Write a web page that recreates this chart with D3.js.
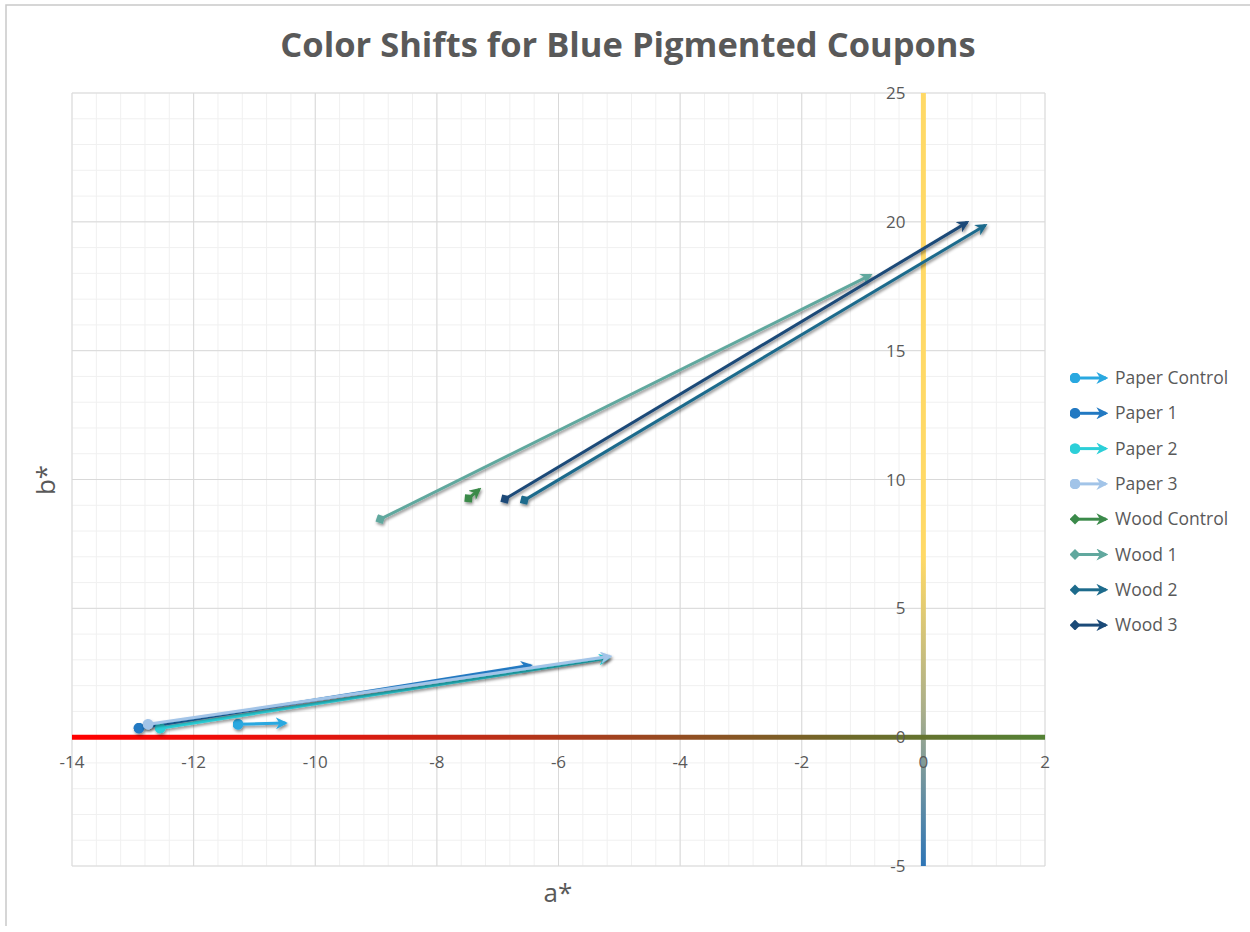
<!DOCTYPE html>
<html>
<head>
<meta charset="utf-8">
<script src="https://cdn.jsdelivr.net/npm/d3@7"></script>
<style>
  html, body { margin: 0; padding: 0; background: #fff; }
  text { font-family: "Open Sans", "Noto Sans", sans-serif; fill: #595959; }
</style>
</head>
<body>
<div id="chart"></div>
<script>
// series: start (a*, b*) -> end (a*, b*)
const seriesNames = ['Paper Control', 'Paper 1', 'Paper 2', 'Paper 3',
  'Wood Control', 'Wood 1', 'Wood 2', 'Wood 3'];
const startA = [-11.27, -12.9, -12.55, -12.75, -7.48, -8.93, -6.56, -6.88];
const startB = [0.5, 0.35, 0.35, 0.5, 9.27, 8.46, 9.2, 9.24];
const endA = [-10.49, -6.46, -5.18, -5.15, -7.3, -0.87, 1.02, 0.72];
const endB = [0.55, 2.79, 3.07, 3.14, 9.62, 17.93, 19.87, 19.98];
const seriesColors = ['#29a8e0', '#2279c2', '#2ccfd8', '#a2c4e8',
  '#3b8a4a', '#61a89e', '#1d6b8c', '#1b4a78'];
const startShape = ['circle', 'circle', 'circle', 'circle',
  'diamond', 'diamond', 'diamond', 'diamond'];

const xTicks = [-14, -12, -10, -8, -6, -4, -2, 0, 2];
const yTicks = [-5, 0, 5, 10, 15, 20, 25];

const width = 1250, height = 932;
const plot = { left: 72, right: 1045, top: 93, bottom: 866 };

const svg = d3.select('#chart').append('svg')
  .attr('width', width).attr('height', height);

const x = d3.scaleLinear().domain([-14, 2]).range([plot.left, plot.right]);
const y = d3.scaleLinear().domain([-5, 25]).range([plot.bottom, plot.top]);

const defs = svg.append('defs');

// gradients for the axis lines
const gx = defs.append('linearGradient').attr('id', 'gx')
  .attr('gradientUnits', 'userSpaceOnUse')
  .attr('x1', plot.left).attr('x2', plot.right).attr('y1', 0).attr('y2', 0);
gx.append('stop').attr('offset', '0%').attr('stop-color', '#ff0000');
gx.append('stop').attr('offset', '25%').attr('stop-color', '#e4140e');
gx.append('stop').attr('offset', '55%').attr('stop-color', '#a3401e');
gx.append('stop').attr('offset', '80%').attr('stop-color', '#6e6a2a');
gx.append('stop').attr('offset', '100%').attr('stop-color', '#548235');

const gy = defs.append('linearGradient').attr('id', 'gy')
  .attr('gradientUnits', 'userSpaceOnUse')
  .attr('x1', 0).attr('x2', 0).attr('y1', plot.top).attr('y2', plot.bottom);
gy.append('stop').attr('offset', '0%').attr('stop-color', '#ffd966');
gy.append('stop').attr('offset', '60%').attr('stop-color', '#ffd966');
gy.append('stop').attr('offset', '80%').attr('stop-color', '#a9ae8a');
gy.append('stop').attr('offset', '100%').attr('stop-color', '#2e75b6');

// drop shadow over the whole canvas so flat lines keep their shadow
const shadow = defs.append('filter').attr('id', 'shadow')
  .attr('filterUnits', 'userSpaceOnUse')
  .attr('x', 0).attr('y', 0).attr('width', width).attr('height', height);
shadow.append('feDropShadow').attr('dx', 1).attr('dy', 2)
  .attr('stdDeviation', 1.5).attr('flood-color', '#000').attr('flood-opacity', 0.45);

// markers per series
seriesColors.forEach((c, i) => {
  defs.append('marker').attr('id', 'arr' + i)
    .attr('viewBox', '0 0 10 10').attr('refX', 8).attr('refY', 5)
    .attr('markerWidth', 4).attr('markerHeight', 4)
    .attr('markerUnits', 'strokeWidth').attr('orient', 'auto')
    .append('path').attr('d', 'M0,0L10,5L0,10L3,5Z').attr('fill', c);
  const m = defs.append('marker').attr('id', 'st' + i)
    .attr('viewBox', '0 0 10 10').attr('refX', 5).attr('refY', 5)
    .attr('markerWidth', 3.6).attr('markerHeight', 3.6)
    .attr('markerUnits', 'strokeWidth').attr('orient', 'auto');
  if (startShape[i] === 'circle') {
    m.append('circle').attr('cx', 5).attr('cy', 5).attr('r', 5).attr('fill', c);
  } else {
    m.append('path').attr('d', 'M0,5L5,0L10,5L5,10Z').attr('fill', c);
  }
});

// outer frame (left / top)
svg.append('path').attr('d', 'M6,926V5H1250')
  .attr('fill', 'none').attr('stroke', '#c9c9c9').attr('stroke-width', 1.5);

// grid
const grid = svg.append('g');
grid.selectAll('.vminor').data(d3.range(-14, 2.001, 0.4))
  .join('line').attr('x1', d => x(d)).attr('x2', d => x(d))
  .attr('y1', plot.top).attr('y2', plot.bottom)
  .attr('stroke', '#f0f0f0').attr('stroke-width', 1);
grid.selectAll('.hminor').data(d3.range(-5, 25.001, 1))
  .join('line').attr('y1', d => y(d)).attr('y2', d => y(d))
  .attr('x1', plot.left).attr('x2', plot.right)
  .attr('stroke', '#f0f0f0').attr('stroke-width', 1);
grid.selectAll('.vmajor').data(xTicks)
  .join('line').attr('x1', d => x(d)).attr('x2', d => x(d))
  .attr('y1', plot.top).attr('y2', plot.bottom)
  .attr('stroke', '#d9d9d9').attr('stroke-width', 1);
grid.selectAll('.hmajor').data(yTicks)
  .join('line').attr('y1', d => y(d)).attr('y2', d => y(d))
  .attr('x1', plot.left).attr('x2', plot.right)
  .attr('stroke', '#d9d9d9').attr('stroke-width', 1);

// axis lines
svg.append('line').attr('x1', x(0)).attr('x2', x(0))
  .attr('y1', plot.top).attr('y2', plot.bottom)
  .attr('stroke', 'url(#gy)').attr('stroke-width', 5);
svg.append('line').attr('x1', plot.left).attr('x2', plot.right)
  .attr('y1', y(0)).attr('y2', y(0))
  .attr('stroke', 'url(#gx)').attr('stroke-width', 5);

// tick labels
svg.append('g').selectAll('text').data(xTicks).join('text')
  .attr('x', d => x(d)).attr('y', y(0) + 31)
  .attr('text-anchor', 'middle').attr('font-size', 17)
  .text(d => d);
svg.append('g').selectAll('text').data(yTicks).join('text')
  .attr('x', x(0) - 18).attr('y', d => y(d) + 6)
  .attr('text-anchor', 'end').attr('font-size', 17)
  .text(d => d);

// series arrows
const data = seriesNames.map((name, i) => ({
  name, i, x0: startA[i], y0: startB[i], x1: endA[i], y1: endB[i]
}));
svg.append('g').selectAll('line').data(data).join('line')
  .attr('x1', d => x(d.x0)).attr('y1', d => y(d.y0))
  .attr('x2', d => x(d.x1)).attr('y2', d => y(d.y1))
  .attr('stroke', d => seriesColors[d.i]).attr('stroke-width', 3)
  .attr('marker-start', d => `url(#st${d.i})`)
  .attr('marker-end', d => `url(#arr${d.i})`)
  .attr('filter', 'url(#shadow)');

// title and axis titles
svg.append('text').attr('x', 628).attr('y', 57)
  .attr('text-anchor', 'middle').attr('font-size', 34.5).attr('font-weight', 'bold')
  .text('Color Shifts for Blue Pigmented Coupons');
svg.append('text').attr('x', 558).attr('y', 902)
  .attr('text-anchor', 'middle').attr('font-size', 26)
  .text('a*');
svg.append('text').attr('transform', 'translate(55,480) rotate(-90)')
  .attr('text-anchor', 'middle').attr('font-size', 26)
  .text('b*');

// legend
const legend = svg.append('g').attr('transform', 'translate(1072,378)');
const rows = legend.selectAll('g').data(data).join('g')
  .attr('transform', (d, k) => `translate(0,${k * 35.3})`);
rows.append('line').attr('x1', 3).attr('x2', 34).attr('y1', 0).attr('y2', 0)
  .attr('stroke', d => seriesColors[d.i]).attr('stroke-width', 3)
  .attr('marker-start', d => `url(#st${d.i})`)
  .attr('marker-end', d => `url(#arr${d.i})`);
rows.append('text').attr('x', 43).attr('y', 6).attr('font-size', 17.5)
  .text(d => d.name);
</script>
</body>
</html>
